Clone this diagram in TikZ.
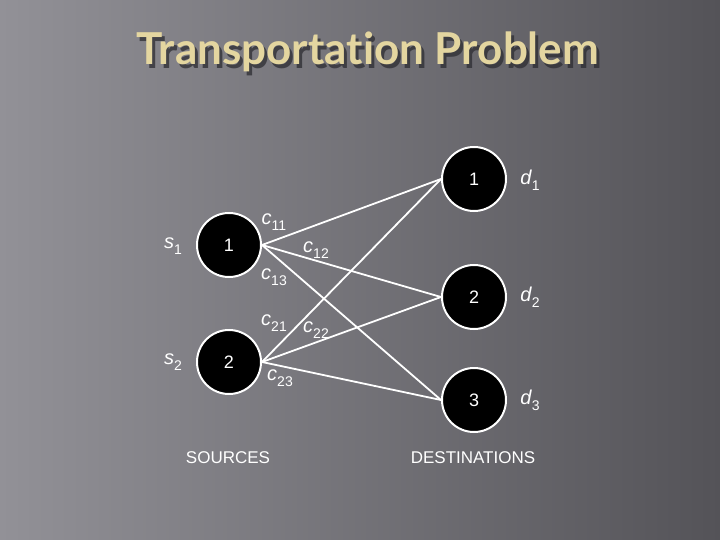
\documentclass[tikz,border=0pt]{standalone}
\usepackage{fontspec}
\setmainfont{Liberation Sans}
\newfontfamily\titlefont[Ligatures=NoCommon]{Lato}
\usetikzlibrary{fadings}

\definecolor{bgleft}{RGB}{146,145,151}
\definecolor{bgright}{RGB}{84,83,88}
\definecolor{titlebeige}{RGB}{228,214,160}
\definecolor{titleshadow}{RGB}{45,45,50}

\tikzfading[name=soft band, top color=transparent!100,
  middle color=transparent!88, bottom color=transparent!100]

\newcommand{\idx}[2]{\textit{#1}\raisebox{-0.55ex}{\fontsize{14}{14}\selectfont #2}}

\begin{document}
\begin{tikzpicture}[x=1pt,y=-1pt,
  every node/.style={inner sep=0pt},
  site/.style={draw=white, line width=2pt, fill=black, circle,
    minimum size=64pt, text=white, font=\fontsize{18}{18}\selectfont},
  cost/.style={text=white, font=\fontsize{20}{20}\selectfont},
  route/.style={draw=white, line width=1.8pt},
  caption/.style={text=white, font=\fontsize{17}{17}\selectfont},
  heading/.style={font=\titlefont\bfseries\fontsize{44}{44}\selectfont},
  streak/.style={fill=white, path fading=soft band, fit fading=true}
]
\useasboundingbox (0,0) rectangle (720,540);
\shade[left color=bgleft, right color=bgright] (0,0) rectangle (720,540);
% light streaks
\begin{scope}[rotate around={-24:(0,100)}]
  \fill[streak] (-60,40) rectangle (520,180);
  \fill[streak] (-60,210) rectangle (460,330);
\end{scope}

% title
\node[heading, text=titleshadow, opacity=0.75] at (371,56) {Transportation Problem};
\node[heading, text=titlebeige] (title) at (368,52) {Transportation Problem};

% sources and destinations
\node[site] (s1) at (229,245) {1};
\node[site] (s2) at (229,362) {2};
\node[site] (d1) at (474,179) {1};
\node[site] (d2) at (474,297) {2};
\node[site] (d3) at (474,400) {3};

\foreach \s in {1,2}
  \foreach \d in {1,2,3}
    \draw[route] (s\s.east) -- (d\d.west);

% supplies and demands
\node[cost] (sup1) at (173,246) {\idx{s}{1}};
\node[cost] (sup2) at (173,362) {\idx{s}{2}};
\node[cost] (dem1) at (530,180) {\idx{d}{1}};
\node[cost] (dem2) at (530,297) {\idx{d}{2}};
\node[cost] (dem3) at (530,400) {\idx{d}{3}};

% costs
\node[cost] (c11) at (274,222) {\idx{c}{11}};
\node[cost] (c12) at (316,250) {\idx{c}{12}};
\node[cost] (c13) at (274,277) {\idx{c}{13}};
\node[cost] (c21) at (274,323) {\idx{c}{21}};
\node[cost] (c22) at (316,330) {\idx{c}{22}};
\node[cost] (c23) at (280,378) {\idx{c}{23}};

\node[caption] (src) at (228,458) {SOURCES};
\node[caption] (dst) at (473,458) {DESTINATIONS};
\end{tikzpicture}
\end{document}
